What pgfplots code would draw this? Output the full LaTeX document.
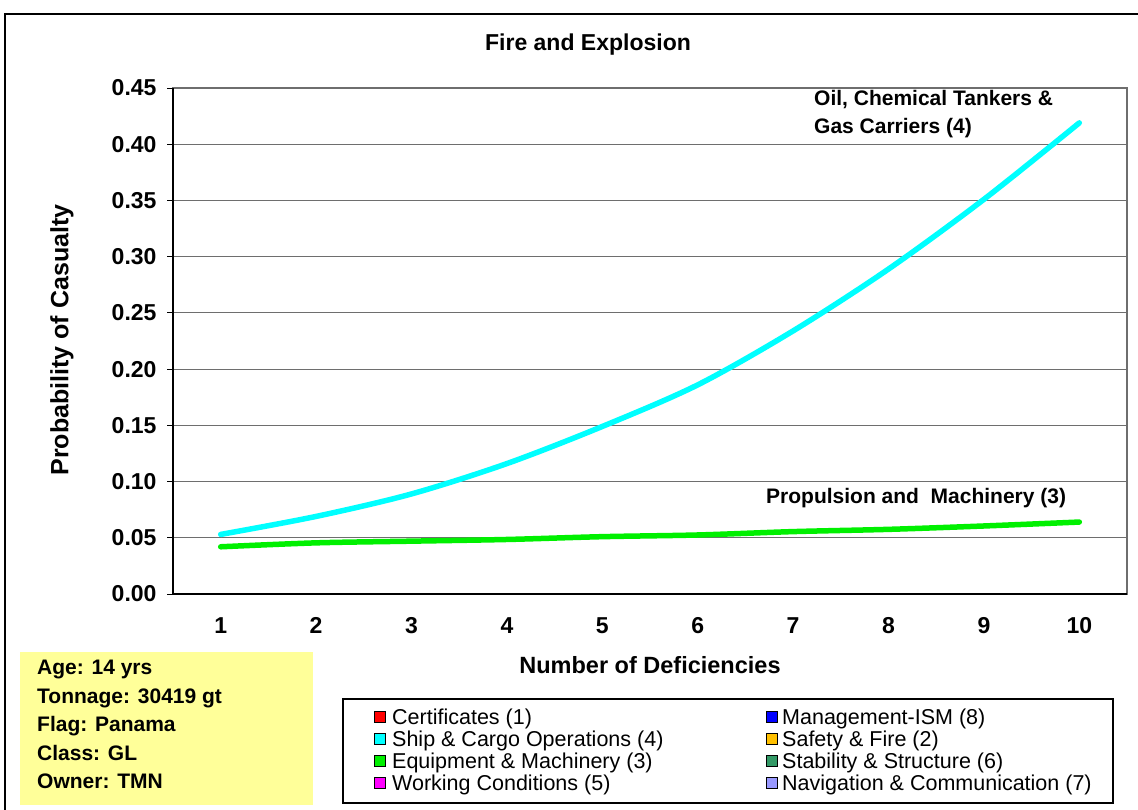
\documentclass[border=0pt]{standalone}
\usepackage{pgfplots}
\pgfplotsset{compat=1.18}
\usepackage{fontspec}
\setmainfont{Liberation Sans}
\definecolor{infoyellow}{RGB}{255,255,153}
\definecolor{cyanline}{RGB}{0,255,255}
\definecolor{greenline}{RGB}{0,240,0}
\definecolor{gridgray}{RGB}{110,110,110}
\definecolor{safetyor}{RGB}{255,192,0}
\definecolor{stabgreen}{RGB}{51,153,102}
\definecolor{navblue}{RGB}{153,153,255}
\definecolor{workmag}{RGB}{255,0,255}
\newcommand\ff{\fontsize{21bp}{25bp}\selectfont}
\newcommand\ft{\fontsize{23bp}{27bp}\selectfont}
\newcommand\fl{\fontsize{21.5bp}{22bp}\selectfont}

\begin{document}
\begin{tikzpicture}[x=1bp,y=1bp]
\useasboundingbox (0,0) rectangle (1138,-810);
\draw[line width=2bp] (5,-14) rectangle (1160,-830);

\begin{axis}[
  at={(173bp,-594bp)}, anchor=south west,
  scale only axis, width=954bp, height=506bp,
  xmin=0.5, xmax=10.5, ymin=0, ymax=0.45,
  xtick={1,...,10}, ytick={0,0.05,...,0.45},
  minor xtick={0.5,1.5,...,10.5},
  xtick pos=bottom, ytick pos=left,
  tick align=outside,
  major tick length=6bp, minor tick length=6bp,
  xtick style={draw=none},
  minor tick style={black, line width=0.8bp},
  ytick style={black, line width=0.8bp},
  ymajorgrids,
  grid style={gridgray, line width=1.2bp},
  axis line style={gridgray, line width=1.2bp},
  /pgf/number format/assume math mode=true,
  ticklabel style={font=\ft\bfseries},
  yticklabel style={/pgf/number format/fixed, /pgf/number format/fixed zerofill, /pgf/number format/precision=2, xshift=-7bp},
  xticklabel style={yshift=-14bp},
  clip=false,
]
\addplot[cyanline, line width=5.5bp, smooth, line cap=round] coordinates {
  (1,0.053) (2,0.069) (3,0.089) (4,0.116) (5,0.149)
  (6,0.186) (7,0.234) (8,0.289) (9,0.351) (10,0.419)
};
\addplot[greenline, line width=5.5bp, smooth, line cap=round] coordinates {
  (1,0.042) (2,0.0455) (3,0.047) (4,0.0485) (5,0.051)
  (6,0.0525) (7,0.0555) (8,0.0575) (9,0.0605) (10,0.064)
};
\draw[black, line width=1.2bp] (axis cs:0.5,0.45) -- (axis cs:0.5,0) -- (axis cs:10.5,0);
\end{axis}

\node[font=\ft\bfseries] at (588,-45) {Fire and Explosion};
\node[font=\fontsize{25bp}{28bp}\selectfont\bfseries, rotate=90] at (62,-340) {Probability of Casualty};
\node[font=\fontsize{23.5bp}{28bp}\selectfont\bfseries] at (650,-665) {Number of Deficiencies};

\node[font=\ff\bfseries, anchor=base west, inner sep=0] at (814,-105.5) {Oil, Chemical Tankers \&};
\node[font=\ff\bfseries, anchor=base west, inner sep=0] at (814,-133.5) {Gas Carriers (4)};
\node[font=\ff\bfseries, anchor=base west, inner sep=0] at (766,-503) {Propulsion and\ \ Machinery (3)};

\fill[infoyellow] (20,-652) rectangle (313,-805);
\foreach \t [count=\i] in {Age: 14 yrs, Tonnage: 30419 gt, Flag: Panama, Class: GL, Owner: TMN}
  \node[font=\ff\bfseries, anchor=base west, inner sep=0] at (37,-674.5-28.5*\i+28.5) {\t};

\draw[black, line width=1.5bp, fill=white] (343,-699) rectangle (1113,-803);
\foreach \c/\t [count=\i] in {red/Certificates (1), cyanline/Ship \& Cargo Operations (4), greenline/Equipment \& Machinery (3), workmag/Working Conditions (5)} {
  \filldraw[fill=\c, draw=black, line width=0.6bp] (374,-711.5-22*\i+22) rectangle (385,-722.5-22*\i+22);
  \node[font=\fl, anchor=base west, inner sep=0] at (392,-724-22*\i+22) {\t};
}
\foreach \c/\t [count=\i] in {blue/Management-ISM (8), safetyor/Safety \& Fire (2), stabgreen/Stability \& Structure (6), navblue/Navigation \& Communication (7)} {
  \filldraw[fill=\c, draw=black, line width=0.6bp] (766,-711.5-22*\i+22) rectangle (777,-722.5-22*\i+22);
  \node[font=\fl, anchor=base west, inner sep=0] at (782,-724-22*\i+22) {\t};
}
\end{tikzpicture}
\end{document}
